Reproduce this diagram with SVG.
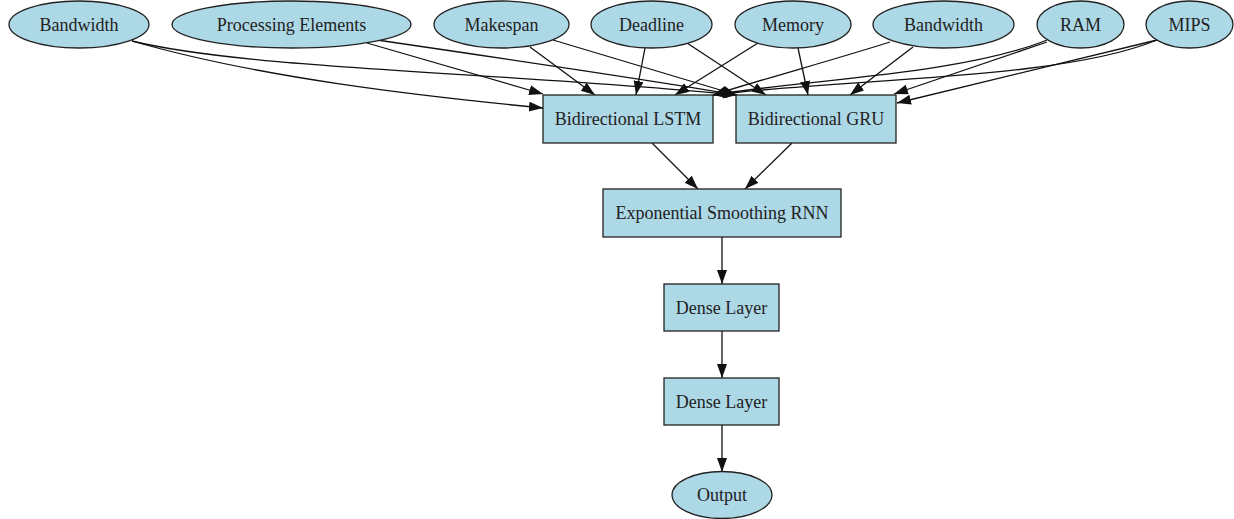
<svg xmlns="http://www.w3.org/2000/svg" width="1234" height="519" viewBox="0 0 1234 519">
<style>
.n{fill:#add8e6;stroke:#222;stroke-width:1.3}
.t{font-family:"Liberation Serif","Times New Roman",serif;font-size:18px;fill:#222;text-anchor:middle}
.e{fill:none;stroke:#111;stroke-width:1.3;marker-end:url(#ah)}
</style>
<defs>
<marker id="ah" markerUnits="userSpaceOnUse" markerWidth="15" markerHeight="11" refX="14" refY="5" orient="auto">
<path d="M0,0 L14,5 L0,10 z" fill="#111"/>
</marker>
</defs>
<rect width="1234" height="519" fill="#fff"/>
<g id="connectors">
<path class="e" d="M132,41 C260,78 420,96 543,108"/>
<path class="e" d="M132,41 C250,70 520,73 737,95"/>
<path class="e" d="M367,43 L543,94"/>
<path class="e" d="M377,40 C500,58 650,80 737,95"/>
<path class="e" d="M530,47 L595,95"/>
<path class="e" d="M553,40 L737,95"/>
<path class="e" d="M645,48 L636,95"/>
<path class="e" d="M687,43 L766,95"/>
<path class="e" d="M758,43 L675,95"/>
<path class="e" d="M798,48 L808,95"/>
<path class="e" d="M890,42 C840,58 760,80 713,95"/>
<path class="e" d="M913,47 L850,95"/>
<path class="e" d="M1047,40 C960,75 800,80 713,95"/>
<path class="e" d="M1047,42 L894,94"/>
<path class="e" d="M1157,40 C1060,80 850,78 713,95"/>
<path class="e" d="M1157,40 L897,103"/>
<path class="e" d="M652,143 L698,189"/>
<path class="e" d="M792,143 L745,189"/>
<path class="e" d="M722,237 L722,284"/>
<path class="e" d="M722,331 L722,378"/>
<path class="e" d="M722,425 L722,472"/>
</g>
<g id="bandwidth1"><ellipse class="n" cx="79" cy="24.5" rx="70" ry="23.5"/><text class="t" x="79" y="31">Bandwidth</text></g>
<g id="processing-elements"><ellipse class="n" cx="291.5" cy="24.5" rx="119.5" ry="23.5"/><text class="t" x="291.5" y="31">Processing Elements</text></g>
<g id="makespan"><ellipse class="n" cx="501.5" cy="24.5" rx="67.5" ry="23.5"/><text class="t" x="501.5" y="31">Makespan</text></g>
<g id="deadline"><ellipse class="n" cx="651.5" cy="24.5" rx="60.5" ry="23.5"/><text class="t" x="651.5" y="31">Deadline</text></g>
<g id="memory"><ellipse class="n" cx="793" cy="24.5" rx="58" ry="23.5"/><text class="t" x="793" y="31">Memory</text></g>
<g id="bandwidth2"><ellipse class="n" cx="943.5" cy="24.5" rx="70.5" ry="23.5"/><text class="t" x="943.5" y="31">Bandwidth</text></g>
<g id="ram"><ellipse class="n" cx="1080.5" cy="24.5" rx="43.5" ry="23.5"/><text class="t" x="1080.5" y="31">RAM</text></g>
<g id="mips"><ellipse class="n" cx="1189.5" cy="24.5" rx="43.5" ry="23.5"/><text class="t" x="1189.5" y="31">MIPS</text></g>
<g id="bilstm"><rect class="n" x="543" y="95" width="170" height="48"/><text class="t" x="628" y="125">Bidirectional LSTM</text></g>
<g id="bigru"><rect class="n" x="736" y="95" width="160" height="48"/><text class="t" x="816" y="125">Bidirectional GRU</text></g>
<g id="esrnn"><rect class="n" x="603" y="189" width="238" height="48"/><text class="t" x="722" y="219">Exponential Smoothing RNN</text></g>
<g id="dense1"><rect class="n" x="664" y="284" width="115" height="47"/><text class="t" x="721.5" y="314">Dense Layer</text></g>
<g id="dense2"><rect class="n" x="664" y="378" width="115" height="47"/><text class="t" x="721.5" y="408">Dense Layer</text></g>
<g id="output"><ellipse class="n" cx="722" cy="495" rx="50" ry="23.5"/><text class="t" x="722" y="501">Output</text></g>
</svg>
